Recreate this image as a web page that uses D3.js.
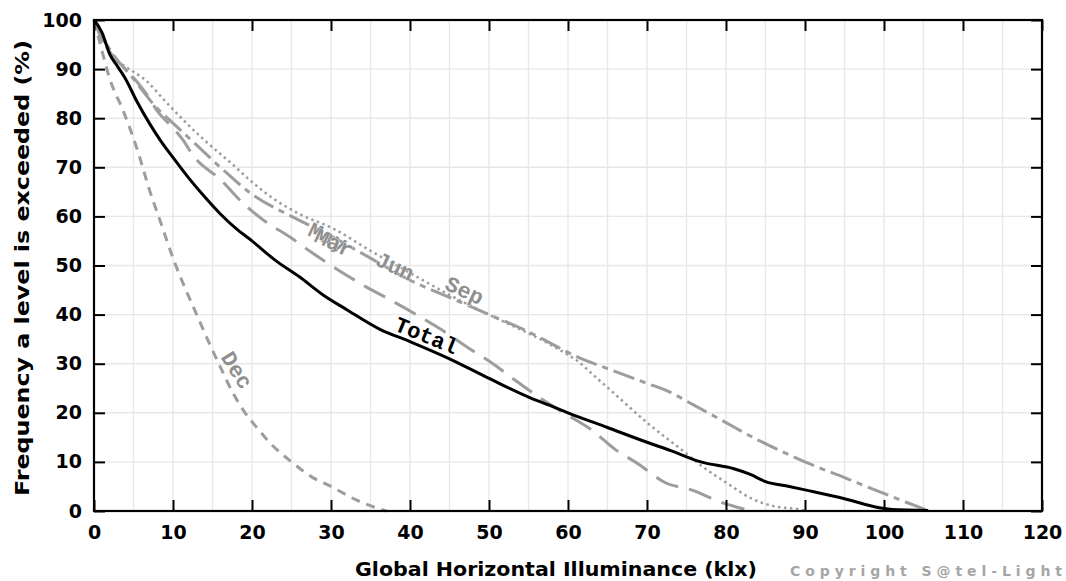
<!DOCTYPE html>
<html>
<head>
<meta charset="utf-8">
<script src="https://cdn.jsdelivr.net/npm/d3@7"></script>
<style>
html,body{margin:0;padding:0;background:#fff;}
svg{display:block;}
</style>
</head>
<body>
<svg id="chart" width="1066" height="581"></svg>
<script>
// ---------- data ----------
const xTickValues = [0,10,20,30,40,50,60,70,80,90,100,110,120];
const yTickValues = [0,10,20,30,40,50,60,70,80,90,100];
const xLabel = "Global Horizontal Illuminance (klx)";
const yLabel = "Frequency a level is exceeded (%)";
const copyright = "Copyright S@tel-Light";

const totalCurve = [[0,100],[1,97.5],[2,93],[3,90.5],[4,88],[5.4,83.5],[7,79],[8.4,75.5],[10,72],[12,67.8],[14,64],[16,60.5],[18,57.5],[20,55],[23,51],[26,47.7],[29,44],[32,41],[36.2,37],[40,34.5],[45,31],[50,27],[55,23.2],[57.7,21.5],[60,20],[65,17],[70,14],[73,12.3],[76.8,10],[81,8.6],[83,7.5],[85,6],[88,5],[90,4.3],[95,2.5],[99.6,0.6],[101,0.3],[105.6,0.1]];
const decCurve = [[0,100],[0.8,95],[2,88],[3.7,81.5],[5.4,74],[7.1,65],[8.5,58.5],[10,51.5],[11.5,45.5],[13,40],[14.5,34.5],[16,29.3],[17.6,24],[19,20.3],[20.6,17],[22.5,13.5],[25,10],[27.5,7],[30,5],[33,2.4],[36,0.5],[37,0]];
const marCurve = [[0,100],[1,96],[2,93.5],[4.6,89],[6.6,85],[8,81.5],[10,78],[11.3,75.5],[12.5,72.5],[16,67.5],[19,62.5],[21.4,59.3],[24.8,55.8],[27.7,52.5],[31,49],[34.5,45.6],[37.5,43],[40.8,40],[44,36.9],[47.2,33.4],[50.5,30],[53,27],[56.5,23],[60,19.5],[63,16.5],[66,12.5],[68.7,9.8],[72.4,5.7],[75.6,4.3],[79.7,1.6],[82,0.5],[83,0]];
const dottedCurve = [[0,100],[1,97],[2,93],[4,90.5],[6.7,87.5],[9,83.5],[11.7,79],[14,75.5],[17.6,70.5],[20,67],[23,63.3],[26,60.5],[30.3,57.5],[35,53],[40,48.5],[45,44],[50,40],[53,37.7],[55,36.2],[58,33.7],[60,31.8],[61,30.8],[63,28],[66.5,23],[70,18],[72.5,14.8],[74.6,12.2],[76.8,9.3],[80,5.8],[83.3,2.5],[86,1],[89.6,0.2],[90,0]];
const dashDotCurve = [[0,100],[2,94],[5,88],[8,82],[10,79],[13,74.5],[16,70],[20,64.5],[25,60],[30,56],[35,51.5],[40,47],[45,43.5],[50,40],[55,36.5],[58,34],[61,31.5],[65,29],[70,26],[72.5,24.5],[76,21.5],[80,18],[84,14.5],[87,12.2],[90,10],[95,6.8],[99,4.2],[102,2.3],[105.7,0]];

// curve labels: text, anchor (data units), rotation
const labelTexts = ["Dec","May","Mar","Jun","Sep","Total"];
const labelAnchors = [[17.9,28.5],[29.5,55.5],[30.3,54.3],[38,49.5],[46.8,44.6],[42,35.4]];
const labelAngles = [58,25,25,25,25,22];

// ---------- layout ----------
const svg = d3.select("#chart");
const W = 1066, H = 581;
const m = {left:94, right:1066-1042, top:20, bottom:581-511};
const x = d3.scaleLinear().domain([0,120]).range([m.left, W-m.right]);
const y = d3.scaleLinear().domain([0,100]).range([H-m.bottom, m.top]);
const fontAxis = "'DejaVu Sans', sans-serif";
const fontLbl = "'Liberation Mono', 'Courier New', monospace";

// grid
const g = svg.append("g");
g.selectAll("line.vg").data(d3.range(5,120,5)).join("line")
  .attr("x1", d=>x(d)).attr("x2", d=>x(d)).attr("y1", y(0)).attr("y2", y(100))
  .attr("stroke", "#e8e8e8").attr("stroke-width", 1.4);
g.selectAll("line.hg").data(d3.range(10,100,10)).join("line")
  .attr("y1", d=>y(d)).attr("y2", d=>y(d)).attr("x1", x(0)).attr("x2", x(120))
  .attr("stroke", "#e8e8e8").attr("stroke-width", 1.4);

// curves
const line = d3.line().x(d=>x(d[0])).y(d=>y(d[1])).curve(d3.curveMonotoneX);
const gray = "#9d9d9d";
const series = [
  {data: decCurve, color: gray, w: 3, dash: "9,7"},
  {data: marCurve, color: gray, w: 3, dash: "24,11"},
  {data: dottedCurve, color: gray, w: 2.5, dash: "2.5,3.5"},
  {data: dashDotCurve, color: gray, w: 3, dash: "22,6,6,6"},
  {data: totalCurve, color: "#000", w: 3, dash: null}
];
svg.append("g").selectAll("path").data(series).join("path")
  .attr("d", d=>line(d.data))
  .attr("fill", "none")
  .attr("stroke", d=>d.color)
  .attr("stroke-width", d=>d.w)
  .attr("stroke-dasharray", d=>d.dash);

// frame
svg.append("rect").attr("x", x(0)).attr("y", y(100))
  .attr("width", x(120)-x(0)).attr("height", y(0)-y(100))
  .attr("fill", "none").attr("stroke", "#000").attr("stroke-width", 2.2);

// axes with inward ticks
const tl = 11;
svg.append("g").attr("transform", `translate(0,${y(0)})`)
  .call(d3.axisBottom(x).tickValues(xTickValues).tickSize(-tl).tickPadding(15).tickFormat(d3.format("d")))
  .call(a=>a.select(".domain").remove());
svg.append("g").attr("transform", `translate(0,${y(100)})`)
  .call(d3.axisTop(x).tickValues(xTickValues).tickSize(-tl).tickFormat(""))
  .call(a=>a.select(".domain").remove());
svg.append("g").attr("transform", `translate(${x(0)},0)`)
  .call(d3.axisLeft(y).tickValues(yTickValues).tickSize(-tl).tickPadding(12).tickFormat(d3.format("d")))
  .call(a=>a.select(".domain").remove());
svg.append("g").attr("transform", `translate(${x(120)},0)`)
  .call(d3.axisRight(y).tickValues(yTickValues).tickSize(-tl).tickFormat(""))
  .call(a=>a.select(".domain").remove());
svg.selectAll(".tick line").attr("stroke", "#000").attr("stroke-width", 2);
svg.selectAll(".tick text").attr("font-family", fontAxis).attr("font-weight", "bold")
  .attr("font-size", 19).attr("fill", "#000");

// axis titles
svg.append("text").attr("x", 556).attr("y", 576).attr("text-anchor", "middle")
  .attr("font-family", fontAxis).attr("font-weight", "bold").attr("font-size", 19)
  .attr("textLength", 402).attr("lengthAdjust", "spacingAndGlyphs").text(xLabel);
svg.append("text").attr("transform", "translate(29,268) rotate(-90)").attr("text-anchor", "middle")
  .attr("font-family", fontAxis).attr("font-weight", "bold").attr("font-size", 19)
  .attr("textLength", 456).attr("lengthAdjust", "spacingAndGlyphs").text(yLabel);
svg.append("text").attr("x", 790).attr("y", 576)
  .attr("font-family", fontAxis).attr("font-weight", "bold").attr("font-size", 14)
  .attr("fill", "#a6a6a6").attr("textLength", 272).attr("lengthAdjust", "spacing").text(copyright);

// curve labels
svg.append("g").selectAll("text").data(labelTexts).join("text")
  .attr("transform", (d,i)=>`translate(${x(labelAnchors[i][0])},${y(labelAnchors[i][1])}) rotate(${labelAngles[i]})`)
  .attr("text-anchor", "middle").attr("dominant-baseline", "central")
  .attr("font-family", fontLbl).attr("font-weight", "bold").attr("font-size", 22)
  .attr("fill", d=>d==="Total" ? "#000" : "#8f8f8f")
  .attr("stroke", "#fff").attr("stroke-width", 0.6).attr("paint-order", "stroke")
  .text(d=>d);
</script>
</body>
</html>
